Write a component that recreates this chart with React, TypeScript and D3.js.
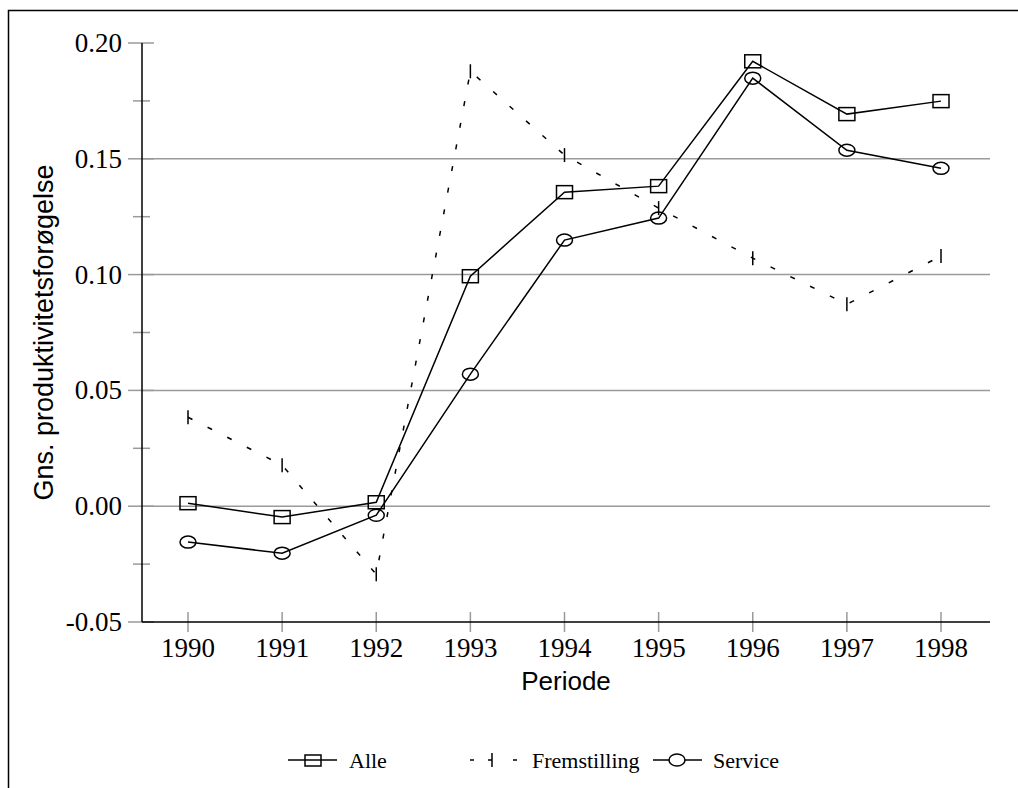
import React from "react";
import * as d3 from "d3";

const years = [1990, 1991, 1992, 1993, 1994, 1995, 1996, 1997, 1998];
const alle = [0.0013, -0.0047, 0.0017, 0.0993, 0.1356, 0.1382, 0.1921, 0.1693, 0.1749];
const fremstilling = [0.0384, 0.0177, -0.0294, 0.1878, 0.1516, 0.1287, 0.1071, 0.0872, 0.108];
const service = [-0.0155, -0.0203, -0.0039, 0.057, 0.1149, 0.1244, 0.1848, 0.1537, 0.1459];
const yMajor = [-0.05, 0.0, 0.05, 0.1, 0.15, 0.2];
const yMinor = [-0.025, 0.025, 0.075, 0.125, 0.175];
const gridTicks = [0.0, 0.05, 0.1, 0.15];

export default function App() {
  const W = 1018, H = 788;
  const x = d3.scaleLinear().domain([1990, 1998]).range([188, 941]);
  const y = d3.scaleLinear().domain([-0.05, 0.2]).range([622, 43]);
  const axL = 142, axR = 990;
  const line = d3.line<number>().x((_, i) => x(years[i])).y((d) => y(d));
  const serif = "'Liberation Serif', 'Times New Roman', serif";
  const sans = "'Liberation Sans', Arial, sans-serif";
  const gray = "#9a9a9a";
  const fmt = (t: number) => d3.format(".2f")(t).replace("\u2212", "-");
  return (
    <svg width={W} height={H} style={{ position: "absolute", left: 0, top: 0, background: "#fff" }}>
      <rect x={8.5} y={10.5} width={1200} height={1000} fill="none" stroke="#000" strokeWidth={1.5} />
      {gridTicks.map((t) => (
        <line key={"g" + t} x1={axL} x2={axR} y1={y(t)} y2={y(t)} stroke={gray} strokeWidth={1.5} />
      ))}
      {yMajor.map((t) => (
        <line key={"mj" + t} x1={128} x2={154} y1={y(t)} y2={y(t)} stroke={gray} strokeWidth={1.5} />
      ))}
      {yMinor.map((t) => (
        <line key={"mn" + t} x1={133} x2={150} y1={y(t)} y2={y(t)} stroke={gray} strokeWidth={1.5} />
      ))}
      {years.map((yr) => (
        <line key={"xt" + yr} x1={x(yr)} x2={x(yr)} y1={612} y2={632} stroke={gray} strokeWidth={1.5} />
      ))}
      <line x1={axL} x2={axL} y1={y(0.2)} y2={y(-0.05)} stroke="#000" strokeWidth={1.5} />
      <line x1={axL} x2={axR} y1={y(-0.05)} y2={y(-0.05)} stroke="#000" strokeWidth={1.5} />
      {yMajor.map((t) => (
        <text key={"yl" + t} x={122} y={y(t) + 9} textAnchor="end" fontFamily={serif} fontSize={27}>
          {fmt(t)}
        </text>
      ))}
      {years.map((yr) => (
        <text key={"xl" + yr} x={x(yr)} y={657} textAnchor="middle" fontFamily={serif} fontSize={27}>
          {yr}
        </text>
      ))}
      <text x={566} y={690} textAnchor="middle" fontFamily={sans} fontSize={26}>Periode</text>
      <text transform={`translate(53,${(y(0.2) + y(-0.05)) / 2}) rotate(-90)`} textAnchor="middle" fontFamily={sans} fontSize={27}>
        Gns. produktivitetsforøgelse
      </text>

      <path d={line(fremstilling) || ""} fill="none" stroke="#000" strokeWidth={1.5} strokeDasharray="5,17" />
      {fremstilling.map((v, i) => (
        <line key={"fm" + i} x1={x(years[i])} x2={x(years[i])} y1={y(v) - 7} y2={y(v) + 7} stroke="#000" strokeWidth={1.5} />
      ))}
      <path d={line(alle) || ""} fill="none" stroke="#000" strokeWidth={1.5} />
      {alle.map((v, i) => (
        <rect key={"am" + i} x={x(years[i]) - 8} y={y(v) - 6.5} width={16} height={13} fill="none" stroke="#000" strokeWidth={1.5} />
      ))}
      <path d={line(service) || ""} fill="none" stroke="#000" strokeWidth={1.5} />
      {service.map((v, i) => (
        <ellipse key={"sm" + i} cx={x(years[i])} cy={y(v)} rx={8} ry={6} fill="none" stroke="#000" strokeWidth={1.5} />
      ))}

      {/* legend */}
      <line x1={288} x2={337} y1={760} y2={760} stroke="#000" strokeWidth={1.5} />
      <rect x={305} y={755} width={16} height={11} fill="none" stroke="#000" strokeWidth={1.5} />
      <text x={349} y={768} fontFamily={serif} fontSize={22}>Alle</text>
      <line x1={470} x2={474} y1={760} y2={760} stroke="#000" strokeWidth={1.5} />
      <line x1={492} x2={492} y1={753} y2={767} stroke="#000" strokeWidth={1.5} />
      <line x1={488} x2={492} y1={760} y2={760} stroke="#000" strokeWidth={1.5} />
      <line x1={513} x2={517} y1={760} y2={760} stroke="#000" strokeWidth={1.5} />
      <text x={532} y={768} fontFamily={serif} fontSize={22}>Fremstilling</text>
      <line x1={653} x2={702} y1={760} y2={760} stroke="#000" strokeWidth={1.5} />
      <ellipse cx={677} cy={760} rx={8} ry={6} fill="#fff" stroke="#000" strokeWidth={1.5} />
      <text x={713} y={768} fontFamily={serif} fontSize={22}>Service</text>
    </svg>
  );
}
